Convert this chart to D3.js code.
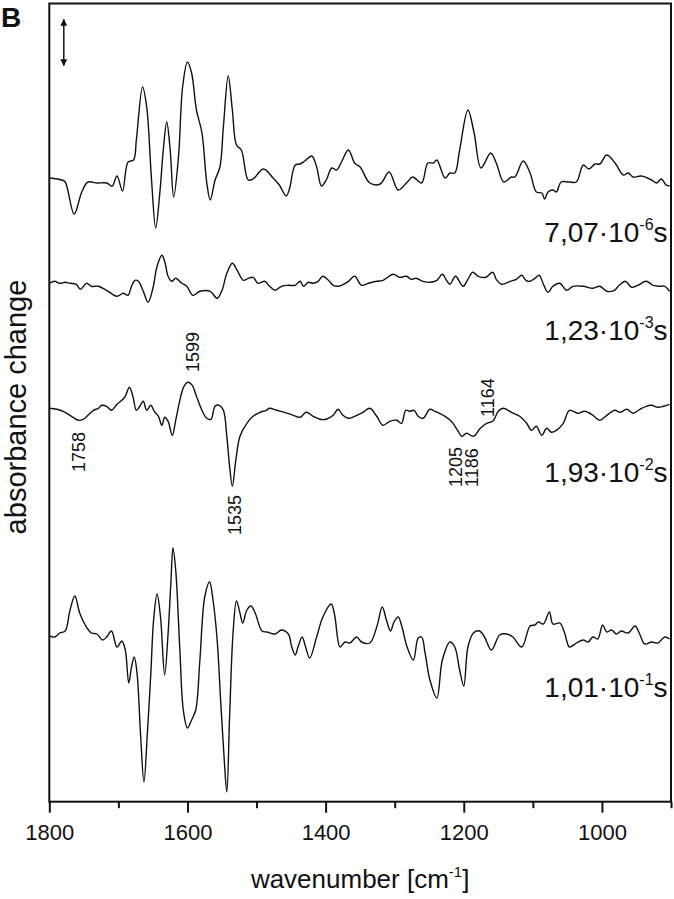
<!DOCTYPE html>
<html>
<head>
<meta charset="utf-8">
<script src="https://cdn.jsdelivr.net/npm/d3@7"></script>
<style>
  html, body { margin: 0; padding: 0; background: #fff; }
  svg text { font-family: "Liberation Sans", Arial, sans-serif; fill: #111; }
</style>
</head>
<body>
<svg id="chart" width="674" height="899"></svg>
<script>
// spectra: [wavenumber, absorbance change (arb. units)]
const spec1 = [[1800,0.0],[1782,-0.2],[1777,-0.4],[1764,-3.6],[1753,-1.4],[1744,-0.4],[1731,-0.5],[1717,-0.5],[1709,-0.8],[1702,0.2],[1694,-1.3],[1686,1.6],[1678,1.8],[1674,3.8],[1665,9.1],[1659,7.1],[1652,-0.2],[1646,-5.0],[1640,-1.5],[1635,2.8],[1630,5.6],[1625,2.8],[1620,-1.9],[1613,2.1],[1607,9.1],[1600,11.6],[1594,10.5],[1587,6.8],[1579,4.5],[1572,-0.5],[1567,-2.2],[1560,-0.2],[1553,1.1],[1548,5.1],[1541,10.2],[1535,6.8],[1529,3.3],[1522,2.8],[1512,-0.2],[1505,-0.1],[1490,0.9],[1476,0.0],[1467,-0.7],[1457,-1.8],[1452,-1.0],[1444,1.3],[1437,1.4],[1430,1.7],[1420,2.2],[1413,1.1],[1406,-0.8],[1399,-0.2],[1391,1.0],[1384,0.8],[1377,1.6],[1367,2.8],[1358,1.5],[1350,1.1],[1336,-0.5],[1321,-0.6],[1308,0.6],[1295,-1.2],[1283,-0.5],[1274,0.1],[1261,-0.5],[1252,1.5],[1244,1.5],[1239,1.8],[1227,0.0],[1220,0.5],[1213,0.5],[1206,2.8],[1194,6.8],[1185,4.5],[1175,1.0],[1161,2.5],[1153,1.5],[1142,-0.4],[1131,0.1],[1126,0.1],[1114,1.7],[1104,0.5],[1095,-1.4],[1087,-1.5],[1083,-2.1],[1078,-1.4],[1071,-1.2],[1066,-1.4],[1059,-0.4],[1047,-0.4],[1037,-0.4],[1027,1.3],[1019,0.9],[1010,1.4],[1003,1.4],[993,2.3],[981,1.5],[969,0.3],[962,0.5],[955,0.1],[943,0.2],[928,-0.2],[921,-0.5],[914,-0.1],[907,-0.7],[902,-0.8]];

const spec2 = [[1800,0.0],[1792,0.2],[1785,0.0],[1777,0.1],[1770,0.0],[1761,-0.1],[1755,-0.6],[1746,0.0],[1739,-0.3],[1729,-0.3],[1717,-0.7],[1702,-1.3],[1693,-1.0],[1686,-1.2],[1681,-0.3],[1676,0.3],[1671,0.2],[1664,-0.8],[1657,-1.9],[1650,-0.5],[1644,1.7],[1637,2.8],[1633,2.2],[1628,0.7],[1623,0.2],[1617,0.5],[1608,0.0],[1601,-0.3],[1592,-1.2],[1582,-0.8],[1567,-0.8],[1557,-1.5],[1550,-0.7],[1543,1.0],[1535,2.0],[1528,1.3],[1519,0.3],[1512,0.5],[1505,0.6],[1498,0.0],[1488,0.2],[1481,-0.3],[1473,-0.7],[1464,-0.3],[1454,-0.2],[1444,-0.2],[1437,0.2],[1432,-0.3],[1425,0.1],[1418,0.0],[1411,0.2],[1404,0.7],[1396,0.3],[1389,-0.2],[1382,-0.3],[1377,-0.2],[1367,0.2],[1358,0.7],[1348,-0.2],[1338,0.0],[1326,0.2],[1317,0.3],[1302,0.9],[1293,0.6],[1283,0.7],[1276,0.4],[1269,0.5],[1259,0.2],[1249,0.1],[1239,0.3],[1231,0.9],[1225,0.3],[1220,-0.1],[1212,0.7],[1201,-0.3],[1194,0.4],[1187,1.1],[1179,0.7],[1168,0.6],[1158,1.1],[1153,0.4],[1145,-0.1],[1133,0.2],[1124,0.4],[1116,0.8],[1110,0.3],[1104,0.2],[1097,0.5],[1091,0.8],[1084,-0.2],[1078,-0.9],[1071,-0.3],[1061,0.0],[1051,-0.7],[1042,-0.3],[1027,-0.3],[1013,-0.5],[1003,-0.3],[993,-0.8],[982,-0.7],[975,-0.2],[966,0.2],[957,-0.4],[948,-0.2],[936,0.2],[926,-0.2],[917,-0.3],[909,-0.3],[902,-0.8]];

const spec3 = [[1800,0.0],[1789,-0.1],[1777,-0.4],[1768,-0.8],[1758,-1.2],[1751,-1.1],[1744,-0.7],[1736,-0.2],[1729,0.0],[1724,0.3],[1717,0.2],[1710,-0.2],[1702,0.4],[1695,0.8],[1690,1.2],[1684,2.1],[1679,1.2],[1674,-0.2],[1669,0.2],[1664,0.7],[1659,-0.2],[1653,0.3],[1648,-0.3],[1642,-0.8],[1637,-1.7],[1633,-0.9],[1628,-1.3],[1622,-2.7],[1617,-1.2],[1611,0.8],[1605,2.2],[1599,2.6],[1593,2.3],[1587,1.2],[1579,-0.2],[1572,-1.0],[1566,-1.1],[1560,0.2],[1554,0.3],[1548,-0.2],[1543,-2.8],[1539,-5.8],[1535,-7.8],[1530,-5.2],[1524,-2.8],[1514,-1.5],[1505,-0.8],[1495,-0.4],[1486,-0.2],[1481,0.0],[1471,-0.2],[1459,-0.4],[1447,-0.7],[1437,-0.9],[1428,-0.4],[1418,-0.8],[1408,-1.1],[1399,-1.1],[1389,-0.7],[1382,-0.1],[1375,-0.7],[1367,-1.0],[1358,-0.8],[1346,-0.4],[1336,0.0],[1326,-0.8],[1317,-1.7],[1307,-1.3],[1297,-1.2],[1290,-1.5],[1284,-0.2],[1278,-0.3],[1272,-0.2],[1266,-0.8],[1259,-1.0],[1249,-0.1],[1242,-0.3],[1235,-0.5],[1227,-0.8],[1218,-1.3],[1208,-2.3],[1203,-2.8],[1196,-2.5],[1186,-2.8],[1176,-2.0],[1167,-1.5],[1158,-1.3],[1150,-0.3],[1143,0.0],[1131,-0.4],[1119,-0.8],[1109,-1.5],[1102,-2.2],[1095,-1.8],[1087,-2.7],[1080,-2.0],[1073,-2.4],[1066,-2.2],[1056,-1.5],[1047,-0.2],[1035,-0.5],[1025,-0.3],[1013,-0.7],[1003,-1.2],[993,-0.7],[981,-0.2],[974,-0.4],[964,-0.1],[955,-0.5],[945,-0.1],[936,0.2],[928,0.3],[919,0.1],[911,0.2],[902,0.4]];

const spec4 = [[1800,0.0],[1792,-0.1],[1785,0.3],[1777,0.5],[1770,2.6],[1763,4.0],[1756,2.3],[1748,1.1],[1739,0.3],[1731,0.2],[1723,-0.4],[1717,-0.1],[1710,0.5],[1702,-1.1],[1695,-0.5],[1690,-1.4],[1685,-4.7],[1681,-3.1],[1677,-2.1],[1673,-3.7],[1668,-9.7],[1663,-14.6],[1658,-9.7],[1653,-3.7],[1649,1.6],[1644,4.2],[1639,1.9],[1633,-3.9],[1628,0.3],[1624,5.3],[1621,8.8],[1617,6.6],[1611,-1.4],[1606,-7.4],[1600,-9.2],[1594,-8.4],[1588,-7.4],[1582,-2.4],[1575,3.9],[1568,5.4],[1563,3.6],[1557,-0.4],[1552,-6.4],[1547,-12.1],[1543,-15.6],[1539,-8.1],[1534,0.3],[1529,3.5],[1524,2.3],[1520,1.3],[1514,2.6],[1508,3.0],[1502,2.3],[1492,0.5],[1485,0.4],[1473,0.2],[1464,0.6],[1454,0.2],[1449,-1.1],[1444,-1.9],[1440,-1.1],[1434,-0.1],[1429,-1.1],[1423,-2.2],[1413,-0.1],[1404,1.9],[1392,3.2],[1387,2.1],[1379,-1.1],[1372,-0.6],[1365,-0.7],[1355,-0.1],[1348,-0.6],[1336,-0.7],[1326,0.9],[1318,2.9],[1312,1.6],[1306,0.5],[1301,1.4],[1295,1.9],[1289,0.8],[1283,-0.9],[1273,-2.4],[1266,-0.2],[1261,-0.1],[1256,-1.7],[1249,-4.4],[1239,-6.2],[1231,-2.4],[1220,-0.6],[1213,-1.1],[1206,-3.4],[1200,-5.0],[1194,-1.1],[1186,0.3],[1177,0.5],[1170,-0.1],[1160,-1.4],[1148,0.1],[1138,0.2],[1129,-0.1],[1116,-1.1],[1104,1.0],[1097,1.1],[1092,1.4],[1085,1.2],[1076,2.4],[1071,1.2],[1061,1.3],[1054,0.3],[1047,-1.1],[1037,-0.7],[1027,-0.4],[1020,-0.6],[1013,-0.1],[1006,-0.3],[999,1.1],[993,0.4],[986,0.6],[979,0.2],[972,0.5],[962,0.3],[952,1.0],[946,0.3],[938,-0.8],[928,-0.6],[919,-0.7],[909,-0.1],[902,-0.3]];

const spectra = [spec1, spec2, spec3, spec4];
// vertical offset of each trace (stacked plot)
const offsets = [-17.45, -27.98, -40.48, -63.25];

// delay times, label text pieces: mantissa, exponent
const timeMantissa = ["7,07·10", "1,23·10", "1,93·10", "1,01·10"];
const timeExponent = ["-6", "-3", "-2", "-1"];
const timeLabelY = [-23.85, -33.65, -47.85, -69.35];

// band assignments marked on the 1,93·10^-2 s trace
const bandText = ["1758", "1599", "1535", "1205", "1186", "1164"];
const bandAt   = [1757, 1593, 1532, 1212, 1188, 1166];
const bandY    = [-46.85, -36.85, -53.15, -48.35, -48.35, -41.35];

const majorTicks = [1800, 1600, 1400, 1200, 1000];
const minorTicks = [1700, 1500, 1300, 1100, 900];

// scale bar (double arrow), in y units
const scaleBarWn = 1779;
const scaleBarY = [-1.6, -6.2];

const svg = d3.select("#chart");
const plotLeft = 49.3, plotRight = 671, plotTop = 3.5, plotBottom = 801.7;

const x = d3.scaleLinear().domain([1800, 900]).range([plotLeft, plotRight]);
const y = d3.scaleLinear().domain([-79.82, 0]).range([plotBottom, plotTop]);

// arrow heads
const defs = svg.append("defs");
defs.append("marker")
    .attr("id", "head")
    .attr("viewBox", "0 0 10 10")
    .attr("refX", 9).attr("refY", 5)
    .attr("markerWidth", 9).attr("markerHeight", 7)
    .attr("markerUnits", "userSpaceOnUse")
    .attr("orient", "auto-start-reverse")
  .append("path")
    .attr("d", "M0,0 L10,5 L0,10 z")
    .attr("fill", "#111");

// traces
const line = d3.line()
    .x(d => x(d[0]))
    .y(d => d.y)
    .curve(d3.curveCatmullRom.alpha(0.5));

svg.append("g")
  .selectAll("path")
  .data(spectra)
  .join("path")
    .attr("d", (s, i) => line(s.map(d => Object.assign([d[0], d[1]], { y: y(d[1] + offsets[i]) }))))
    .attr("fill", "none")
    .attr("stroke", "#111")
    .attr("stroke-width", 1.4)
    .attr("stroke-linejoin", "round");

// frame
svg.append("rect")
    .attr("x", plotLeft).attr("y", plotTop)
    .attr("width", plotRight - plotLeft).attr("height", plotBottom - plotTop)
    .attr("fill", "none")
    .attr("stroke", "#111")
    .attr("stroke-width", 2);

// x axis, major and minor ticks
const xAxis = svg.append("g")
    .attr("transform", `translate(0,${plotBottom})`)
    .call(d3.axisBottom(x).tickValues(majorTicks).tickSize(11).tickPadding(12).tickFormat(d3.format("d")));
xAxis.select(".domain").remove();
xAxis.selectAll(".tick line").attr("stroke", "#111").attr("stroke-width", 2);
xAxis.selectAll(".tick text")
    .style("font-family", "'Liberation Sans', Arial, sans-serif")
    .style("font-size", "22px")
    .attr("fill", "#111");

const xMinor = svg.append("g")
    .attr("transform", `translate(0,${plotBottom})`)
    .call(d3.axisBottom(x).tickValues(minorTicks).tickSize(6.5).tickFormat(""));
xMinor.select(".domain").remove();
xMinor.selectAll(".tick line").attr("stroke", "#111").attr("stroke-width", 2);

// axis titles
const xt = svg.append("text")
    .attr("x", (plotLeft + plotRight) / 2)
    .attr("y", 888)
    .attr("text-anchor", "middle")
    .style("font-size", "26px");
xt.append("tspan").text("wavenumber [cm");
xt.append("tspan").attr("dy", -11).style("font-size", "15px").text("-1");
xt.append("tspan").attr("dy", 11).text("]");

svg.append("text")
    .attr("transform", "translate(26,407) rotate(-90)")
    .attr("text-anchor", "middle")
    .style("font-size", "29px")
    .text("absorbance change");

// panel letter
svg.append("text")
    .attr("x", 1).attr("y", 27)
    .style("font-size", "28px")
    .style("font-weight", "bold")
    .text("B");

// scale bar
svg.append("line")
    .attr("x1", x(scaleBarWn)).attr("x2", x(scaleBarWn))
    .attr("y1", y(scaleBarY[0])).attr("y2", y(scaleBarY[1]))
    .attr("stroke", "#111")
    .attr("stroke-width", 1.5)
    .attr("marker-start", "url(#head)")
    .attr("marker-end", "url(#head)");

// delay time labels
timeMantissa.forEach((m, i) => {
  const t = svg.append("text")
      .attr("x", x(905))
      .attr("y", y(timeLabelY[i]))
      .attr("text-anchor", "end")
      .style("font-size", "28px");
  t.append("tspan").text(m);
  t.append("tspan").attr("dy", -12).style("font-size", "16px").text(timeExponent[i]);
  t.append("tspan").attr("dy", 12).text("s");
});

// band labels, rotated
svg.append("g")
  .selectAll("text")
  .data(bandText)
  .join("text")
    .attr("transform", (d, i) => `translate(${x(bandAt[i])},${y(bandY[i])}) rotate(-90)`)
    .attr("dy", "0.35em")
    .style("font-size", "18px")
    .text(d => d);
</script>
</body>
</html>
